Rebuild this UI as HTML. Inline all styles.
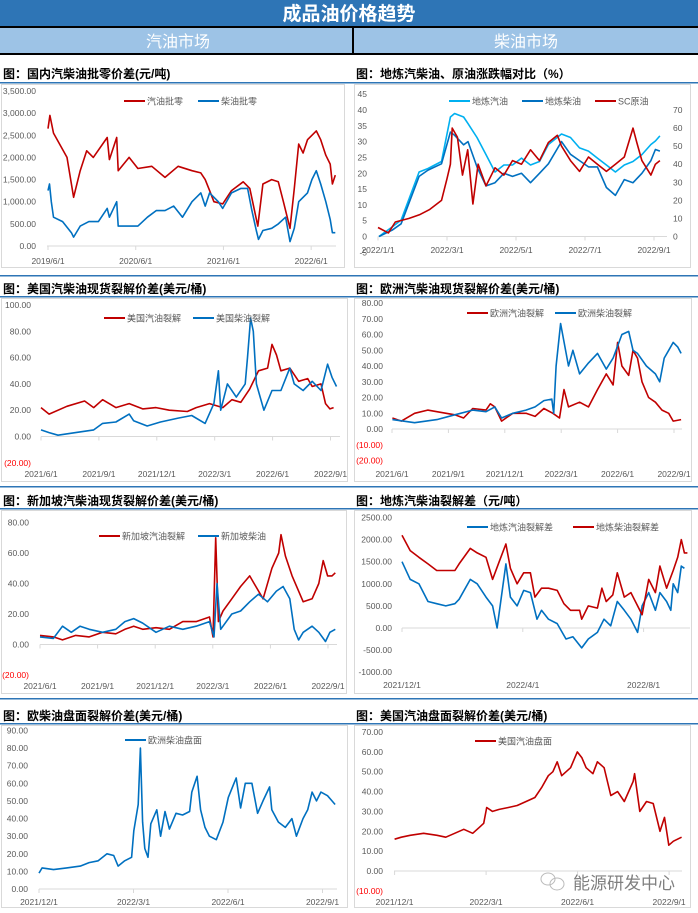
<!DOCTYPE html>
<html><head><meta charset="utf-8">
<style>
html,body{margin:0;padding:0;background:#fff;}
svg{display:block;font-family:"Liberation Sans","Noto Sans CJK SC",sans-serif;}
.ax{font-size:8.5px;fill:#595959;}
.neg{font-size:8.5px;fill:#ff0000;}
.lg{font-size:9px;fill:#595959;}
.ct{font-size:12px;font-weight:bold;fill:#000;}
</style></head>
<body>
<svg id="page" width="698" height="913" viewBox="0 0 698 913">
<rect x="0" y="0" width="698" height="26" fill="#2e75b6"/>
<text x="349" y="20" text-anchor="middle" font-size="19" font-weight="bold" fill="#fff">成品油价格趋势</text>
<rect x="0" y="26" width="698" height="2" fill="#000"/>
<rect x="0" y="28" width="698" height="25" fill="#9dc3e6"/>
<rect x="352" y="28" width="2" height="25" fill="#000"/>
<rect x="0" y="53" width="698" height="2" fill="#000"/>
<text x="178" y="47" text-anchor="middle" font-size="16" fill="#fff">汽油市场</text>
<text x="526" y="47" text-anchor="middle" font-size="16" fill="#fff">柴油市场</text>
<g id="charts"></g>
<g>
<ellipse cx="548" cy="879" rx="7" ry="6" fill="none" stroke="#bbb" stroke-width="1"/>
<ellipse cx="557" cy="884" rx="7" ry="6" fill="none" stroke="#bbb" stroke-width="1"/>
<text x="573" y="889" font-size="17" fill="#7f7f7f">能源研发中心</text>
</g>
</svg>
<script>
// ---- Chart 1: 国内汽柴油批零价差 (months from 2019/6/1)
const c1GasM=[0,0.26,0.75,2.6,3.5,4.4,5.3,6.2,8.1,8.4,9.4,9.6,11.1,12.3,14.2,16,17.8,19.7,20.9,21.5,22.1,22.7,23.9,25.1,26.7,27.6,28.7,29.4,30.6,31.5,32.2,33.1,33.7,34.3,34.9,35.5,36.7,37.3,38,38.6,38.9,39.3];
const c1Gas=[2650,2950,2550,2000,1100,1700,2150,2000,2450,1950,2450,1700,2000,1750,1800,1550,1800,1700,1650,1500,1250,1000,950,1250,1450,1300,450,1400,1500,1450,1000,400,1300,2300,2100,2400,2600,2400,2050,1850,1400,1600];
const c1DieM=[0,0.2,0.45,0.75,2,3.2,3.5,4.4,5.6,6.9,8.1,8.4,9.4,9.6,11.1,12.3,13.6,14.8,16,17.2,18.4,19.7,20.9,21.5,22.1,23.3,23.9,25.1,26.4,27.3,27.9,28.5,28.8,29.4,30.6,31.5,32.5,33.1,33.7,34.3,35.5,36.1,36.7,37.3,38,38.6,38.9,39.3];
const c1Die=[1250,1400,1000,650,550,300,200,450,550,550,850,650,1000,450,450,450,650,800,800,900,650,1000,1200,900,1200,1000,850,1200,1300,1300,800,350,150,350,400,500,650,100,400,1000,1200,1500,1700,1400,1000,600,300,300];
const c1XLabels=["2019/6/1","2020/6/1","2021/6/1","2022/6/1"];
const c1XTicks=[0,12,24,36];
// ---- Chart 2: 地炼汽柴油、原油涨跌幅 (months from 2022/1/1)
const c2M=[0.03,0.41,0.67,1.19,1.45,1.84,2.1,2.22,2.48,2.61,2.87,3.13,3.39,3.65,3.9,4.16,4.42,4.68,4.94,5.32,5.58,5.84,6.1,6.36,6.62,6.88,7.14,7.39,7.65,7.91,8.04,8.17];
const c2Gas=[0,3,5.2,20.4,21.5,23.7,37.8,38.9,37.8,35.7,31.3,25.9,20.4,22.6,22.6,24.8,22.6,23.7,29.1,32.4,31.3,28,27,24.8,22.6,20.4,22.6,23.7,25.9,29.1,30.2,31.8];
const c2Die=[0,2,4,19,21,23,33,32,29,30,22,16,17,20,19,20,17,20,23,30,26,24,22,22,15.5,13,18,17,20,24,27.5,27];
const c2ScM=[0,0.3,0.5,0.9,1.2,1.5,1.84,2.0,2.1,2.15,2.3,2.45,2.6,2.75,2.9,3.13,3.39,3.65,3.9,4.16,4.42,4.68,4.94,5.2,5.32,5.58,5.84,6.1,6.36,6.62,6.88,7.14,7.39,7.5,7.65,7.91,8.04,8.17];
const c2Sc=[5,2,8,10,12,15,20,32,40,60,55,34,48,18,40,28,38,34,42,40,48,42,52,56,50,42,36,44,40,36,40,44,60,52,42,34,40,42];
const c2XLabels=["2022/1/1","2022/3/1","2022/5/1","2022/7/1","2022/9/1"];
const c2XTicks=[0,2,4,6,8];
// ---- Chart 3: 美国汽柴油现货裂解 (months from 2021/6/1)
const c3GasM=[0,0.42,1.34,2.26,2.73,3.19,3.88,4.57,5.27,5.96,6.65,7.58,8.04,8.73,9.42,9.89,10.35,10.81,11.27,11.74,11.97,12.2,12.43,12.89,13.35,13.82,14.05,14.51,14.74,14.97,15.16];
const c3Gas=[22,17,23,27,22,28,22,25,21,22,20,19,22,25,22,28,26,36,50,52,70,62,50,52,42,44,38,40,25,21,22];
const c3DieM=[0,0.42,0.88,1.8,2.73,3.19,3.88,4.57,4.8,5.5,6.19,7.11,7.81,8.5,8.96,9.19,9.31,9.66,10.12,10.58,10.7,10.86,11.0,11.16,11.55,11.97,12.43,12.89,13.12,13.58,14.05,14.51,14.85,15.08,15.31];
const c3Die=[5,3,1,3,5,10,11,17,12,8,11,14,16,10,25,50,20,40,30,40,60,90,80,40,20,35,35,52,40,35,42,35,55,45,38];
const c36XLabels=["2021/6/1","2021/9/1","2021/12/1","2022/3/1","2022/6/1","2022/9/1"];
const c36XTicks=[0,3,6,9,12,15];
// ---- Chart 4: 欧洲汽柴油现货裂解
const c4GasM=[0.02,0.5,1.2,1.9,2.39,3.34,3.81,4.29,5.0,5.23,5.47,5.83,6.42,7.13,7.61,8.08,8.56,8.91,9.15,9.39,9.98,10.45,10.93,11.4,11.76,12.0,12.23,12.59,12.82,13.06,13.3,13.65,14.01,14.36,14.72,14.96,15.38];
const c4Gas=[7,5,10,12,11,9,7,13,12,16,14,5,10,10,8,13,10,7,25,14,17,14,25,35,28,55,40,34,50,45,30,20,17,12,10,5,6];
const c4DieM=[0.02,1.2,2.39,3.34,4.29,5.0,5.47,5.83,6.42,7.13,7.61,8.08,8.5,8.6,8.73,8.97,9.39,9.62,9.98,10.45,10.93,11.4,11.76,12.23,12.59,12.82,13.06,13.53,14.01,14.24,14.48,14.72,14.96,15.2,15.38];
const c4Die=[6,4,6,9,12,11,14,7,10,12,14,18,19,10,40,67,40,50,35,42,48,38,45,60,62,50,48,40,35,30,45,50,55,52,48];
// ---- Chart 5: 新加坡汽柴油现货裂解
const c5GasM=[0,0.7,1.17,1.86,2.56,3.26,3.95,4.42,4.88,5.35,6.04,6.74,7.44,8.13,8.83,9.01,9.15,9.29,9.53,9.99,10.45,10.92,11.15,11.62,12.08,12.43,12.55,12.78,13.13,13.47,13.71,14.17,14.52,14.75,14.98,15.21,15.38];
const c5Gas=[6,5,3,6,5,8,7,10,12,10,11,10,15,15,18,5,70,15,22,30,38,45,40,30,50,60,72,58,45,35,28,30,40,55,45,45,47];
const c5DieM=[0,0.7,1.17,1.63,2.09,2.56,3.26,3.95,4.42,4.88,5.35,6.04,6.74,7.44,8.13,8.83,9.06,9.22,9.41,9.99,10.45,10.92,11.38,11.85,12.31,12.66,13.01,13.24,13.47,13.71,14.17,14.52,14.87,15.1,15.38];
const c5Die=[5,4,12,8,12,10,8,10,15,17,14,8,12,10,12,15,5,40,10,20,22,28,33,28,35,38,30,10,3,8,12,8,2,8,10];
// ---- Chart 6: 地炼汽柴油裂解差 (months from 2021/12/1)
const c6DieM=[0,0.27,0.56,0.86,1.15,1.45,1.75,1.89,2.26,2.49,2.78,3.0,3.22,3.44,3.59,3.81,4.03,4.25,4.4,4.62,4.85,5.14,5.36,5.58,5.88,5.95,6.17,6.47,6.62,6.76,6.98,7.13,7.36,7.58,7.8,7.95,8.17,8.39,8.54,8.76,8.98,9.13,9.25,9.35,9.45];
const c6Die=[2100,1750,1600,1450,1300,1300,1300,1450,1800,1700,1600,1100,1500,1900,1350,1000,1250,1250,700,900,900,850,550,400,400,200,500,450,900,600,750,1250,700,800,500,300,1100,800,1400,900,1300,1600,2000,1700,1700];
const c6GasM=[0,0.27,0.56,0.86,1.15,1.45,1.75,1.89,2.26,2.49,2.78,3.0,3.15,3.44,3.59,3.81,4.03,4.25,4.47,4.62,4.85,5.14,5.43,5.66,5.95,6.17,6.47,6.69,6.91,7.13,7.36,7.58,7.8,7.95,8.17,8.39,8.54,8.76,8.9,8.98,9.13,9.25,9.35];
const c6Gas=[1500,1100,1000,600,550,500,550,650,1100,1000,700,500,0,1450,700,500,850,800,200,400,200,100,-250,-200,-450,-250,-100,200,50,600,400,200,-100,500,800,400,800,600,400,1000,800,1400,1350];
const c6XLabels=["2021/12/1","2022/4/1","2022/8/1"];
const c6XTicks=[0,4,8];
// ---- Chart 7: 欧柴油盘面裂解 (months from 2021/12/1)
const c7M=[0,0.1,0.46,0.88,1.31,1.59,1.88,2.16,2.37,2.51,2.72,2.94,3.01,3.15,3.22,3.29,3.36,3.46,3.55,3.74,3.86,4.0,4.14,4.35,4.56,4.78,4.85,5.02,5.13,5.27,5.41,5.63,5.84,6.01,6.19,6.26,6.4,6.55,6.76,6.94,7.11,7.32,7.39,7.6,7.82,8.03,8.17,8.38,8.53,8.67,8.81,8.95,9.16,9.3,9.4];
const c7Die=[9,12,11,12,13,15,16,20,19,13,16,18,33,48,80,38,23,18,37,45,30,44,34,43,42,44,55,64,45,35,30,28,38,52,60,63,46,60,60,43,50,58,45,38,35,40,30,40,45,55,50,55,53,50,48];
const c78XLabels=["2021/12/1","2022/3/1","2022/6/1","2022/9/1"];
const c78XTicks=[0,3,6,9];
// ---- Chart 8: 美国汽油盘面裂解
const c8M=[0,0.22,0.51,0.95,1.39,1.68,1.97,2.27,2.56,2.78,2.92,3.02,3.21,3.43,3.73,4.02,4.31,4.6,4.82,5.04,5.19,5.33,5.48,5.77,5.99,6.14,6.28,6.5,6.65,6.87,7.09,7.31,7.53,7.82,7.87,8.04,8.26,8.48,8.7,8.85,8.99,9.14,9.41];
const c8Gas=[16,17,18,19,18,17,19,21,19,22,24,32,30,31,32,33,35,37,42,48,50,55,48,52,60,57,52,49,55,52,38,40,35,45,49,30,35,34,20,27,13,15,17];

const RED="#c00000",BLUE="#0070c0",LBLUE="#00b0f0";
const NS="http://www.w3.org/2000/svg";
const root=document.getElementById('charts');
function el(tag,attrs,parent){const e=document.createElementNS(NS,tag);for(const k in attrs)e.setAttribute(k,attrs[k]);(parent||root).appendChild(e);return e;}
function fmt(v,comma){const a=Math.abs(v);let s=a.toFixed(2);if(comma)s=s.replace(/\B(?=(\d{3})+(?!\d))/g,",");return v<0?"("+s+")":s;}

function chart(c){
  const g=el('g',{});
  
  
  const fr=el('rect',{x:c.box[0],y:c.box[1],width:c.box[2],height:c.box[3],fill:'#fff',stroke:'#d9d9d9','stroke-width':1},g);
  
  
  const t=el('text',{x:c.tx,y:c.ty,class:'ct'},g);t.textContent=c.title;
  
  
  const X=m=>c.x0+m*c.xs;
  const Y=v=>c.yp0+(v-c.yv0)*(c.yp1-c.yp0)/(c.yv1-c.yv0);
  const Y2=c.r?(v=>c.yp0+(v-c.r.v0)*(c.yp1-c.yp0)/(c.r.v1-c.r.v0)):Y;
  for(let v=c.ymin;v<=c.ymax+1e-9;v+=c.ystep){
    const neg=v<0&&c.paren;
    const tl=el('text',{x:c.ylx,y:Y(v)+3,'text-anchor':'end',class:neg?'neg':'ax'},g);
    tl.textContent=c.paren?fmt(v,c.comma):(c.plain?String(v):v.toFixed(2));
    
    
  }
  if(c.r){for(let v=c.r.v0;v<=c.r.v1;v+=c.r.step){const tl=el('text',{x:c.r.x,y:Y2(v)+3,class:'ax'},g);tl.textContent=String(v);
    
    }}
  const ay=Y(0);
  el('line',{x1:c.ax[0],x2:c.ax[1],y1:ay,y2:ay,stroke:'#d9d9d9','stroke-width':1},g);
  c.xt.forEach((m,i)=>{
    el('line',{x1:X(m),x2:X(m),y1:ay,y2:ay+4,stroke:'#d9d9d9'},g);
    const xl=el('text',{x:X(m),y:c.xly,'text-anchor':'middle',class:'ax'},g);xl.textContent=c.xl[i];
    
    
  });
  c.series.forEach(s=>{
    const yf=s.right?Y2:Y;
    const pts=s.m.map((m,i)=>X(m).toFixed(1)+","+yf(s.v[i]).toFixed(1)).join(" ");
    const p=el('polyline',{points:pts,fill:'none',stroke:s.c,'stroke-width':1.6,'stroke-linejoin':'round'},g);
    
    
    const lx=s.lg[0],ly=s.lg[1];
    const ll=el('line',{x1:lx,x2:lx+21,y1:ly,y2:ly,stroke:s.c,'stroke-width':2},g);
    
    
    const lt=el('text',{x:lx+23,y:ly+3.5,class:'lg'},g);lt.textContent=s.label;
    
    
  });
}
[82,296,508,723].forEach(y=>{const l=el('rect',{x:0,y:y,width:698,height:1.5,fill:'#2e75b6'});
  
  });
[275,486,698].forEach(y=>{const l=el('rect',{x:0,y:y,width:698,height:1.5,fill:'#2e75b6'});
  
  });

chart({name:'chart-domestic-wholesale-retail',title:'图：国内汽柴油批零价差(元/吨)',tx:3,ty:78,box:[1.5,84.5,343,183],
 x0:48,xs:7.31,yv0:0,yp0:246,yv1:3500,yp1:91,ymin:0,ymax:3500,ystep:500,ylx:36,paren:true,comma:true,
 ax:[47,336],xt:c1XTicks,xl:c1XLabels,xly:264,
 series:[{id:'gasoline-spread-line',m:c1GasM,v:c1Gas,c:RED,label:'汽油批零',lg:[124,101]},
         {id:'diesel-spread-line',m:c1DieM,v:c1Die,c:BLUE,label:'柴油批零',lg:[198,101]}]});
chart({name:'chart-local-refinery-change',title:'图：地炼汽柴油、原油涨跌幅对比（%）',tx:356,ty:78,box:[354.5,84.5,336,183],
 x0:378,xs:34.5,yv0:0,yp0:236.5,yv1:40,yp1:110,ymin:-5,ymax:45,ystep:5,ylx:367,plain:true,
 r:{v0:0,v1:70,step:10,x:673},
 ax:[378,667],xt:c2XTicks,xl:c2XLabels,xly:253,
 series:[{id:'refinery-gasoline-line',m:c2M,v:c2Gas,c:LBLUE,label:'地炼汽油',lg:[449,101]},
         {id:'refinery-diesel-line',m:c2M,v:c2Die,c:BLUE,label:'地炼柴油',lg:[522,101]},
         {id:'sc-crude-line',m:c2ScM,v:c2Sc,c:RED,label:'SC原油',lg:[595,101],right:true}]});
chart({name:'chart-us-spot-crack',title:'图：美国汽柴油现货裂解价差(美元/桶)',tx:3,ty:293,box:[1.5,298.5,346,183],
 x0:41,xs:19.3,yv0:0,yp0:436.5,yv1:100,yp1:305,ymin:-20,ymax:100,ystep:20,ylx:31,paren:true,
 ax:[41,340],xt:c36XTicks,xl:c36XLabels,xly:477,
 series:[{id:'us-gasoline-crack-line',m:c3GasM,v:c3Gas,c:RED,label:'美国汽油裂解',lg:[104,318]},
         {id:'us-diesel-crack-line',m:c3DieM,v:c3Die,c:BLUE,label:'美国柴油裂解',lg:[193,318]}]});
chart({name:'chart-europe-spot-crack',title:'图：欧洲汽柴油现货裂解价差(美元/桶)',tx:356,ty:293,box:[354.5,298.5,337,183],
 x0:392,xs:18.8,yv0:0,yp0:429,yv1:80,yp1:303,ymin:-20,ymax:80,ystep:10,ylx:383,paren:true,
 ax:[392,682],xt:c36XTicks,xl:c36XLabels,xly:477,
 series:[{id:'eu-gasoline-crack-line',m:c4GasM,v:c4Gas,c:RED,label:'欧洲汽油裂解',lg:[467,313]},
         {id:'eu-diesel-crack-line',m:c4DieM,v:c4Die,c:BLUE,label:'欧洲柴油裂解',lg:[555,313]}]});
chart({name:'chart-singapore-spot-crack',title:'图：新加坡汽柴油现货裂解价差(美元/桶)',tx:3,ty:505,box:[1.5,510.5,345,183],
 x0:40,xs:19.2,yv0:0,yp0:644.5,yv1:80,yp1:522.5,ymin:-20,ymax:80,ystep:20,ylx:29,paren:true,
 ax:[40,337],xt:c36XTicks,xl:c36XLabels,xly:689,
 series:[{id:'sg-gasoline-crack-line',m:c5GasM,v:c5Gas,c:RED,label:'新加坡汽油裂解',lg:[99,536]},
         {id:'sg-diesel-crack-line',m:c5DieM,v:c5Die,c:BLUE,label:'新加坡柴油',lg:[198,536]}]});
chart({name:'chart-refinery-crack',title:'图：地炼汽柴油裂解差（元/吨）',tx:356,ty:505,box:[354.5,510.5,337,183],
 x0:402,xs:30.2,yv0:0,yp0:628,yv1:2500,yp1:517.5,ymin:-1000,ymax:2500,ystep:500,ylx:392,
 ax:[402,690],xt:c6XTicks,xl:c6XLabels,xly:688,
 series:[{id:'refinery-gasoline-crack-line',m:c6GasM,v:c6Gas,c:BLUE,label:'地炼汽油裂解差',lg:[467,527]},
         {id:'refinery-diesel-crack-line',m:c6DieM,v:c6Die,c:RED,label:'地炼柴油裂解差',lg:[573,527]}]});
chart({name:'chart-eu-diesel-futures-crack',title:'图：欧柴油盘面裂解价差(美元/桶)',tx:3,ty:720,box:[1.5,725.5,346,182],
 x0:39,xs:31.5,yv0:0,yp0:889,yv1:90,yp1:730.5,ymin:0,ymax:90,ystep:10,ylx:28,
 ax:[39,337],xt:c78XTicks,xl:c78XLabels,xly:905,
 series:[{id:'eu-diesel-futures-line',m:c7M,v:c7Die,c:BLUE,label:'欧洲柴油盘面',lg:[125,740]}]});
chart({name:'chart-us-gasoline-futures-crack',title:'图：美国汽油盘面裂解价差(美元/桶)',tx:356,ty:720,box:[354.5,725.5,336,182],
 x0:394.6,xs:30.5,yv0:0,yp0:871,yv1:70,yp1:732,ymin:-10,ymax:70,ystep:10,ylx:383,paren:true,
 ax:[394,682],xt:c78XTicks,xl:c78XLabels,xly:905,
 series:[{id:'us-gasoline-futures-line',m:c8M,v:c8Gas,c:RED,label:'美国汽油盘面',lg:[475,741]}]});
</script>
</body></html>
